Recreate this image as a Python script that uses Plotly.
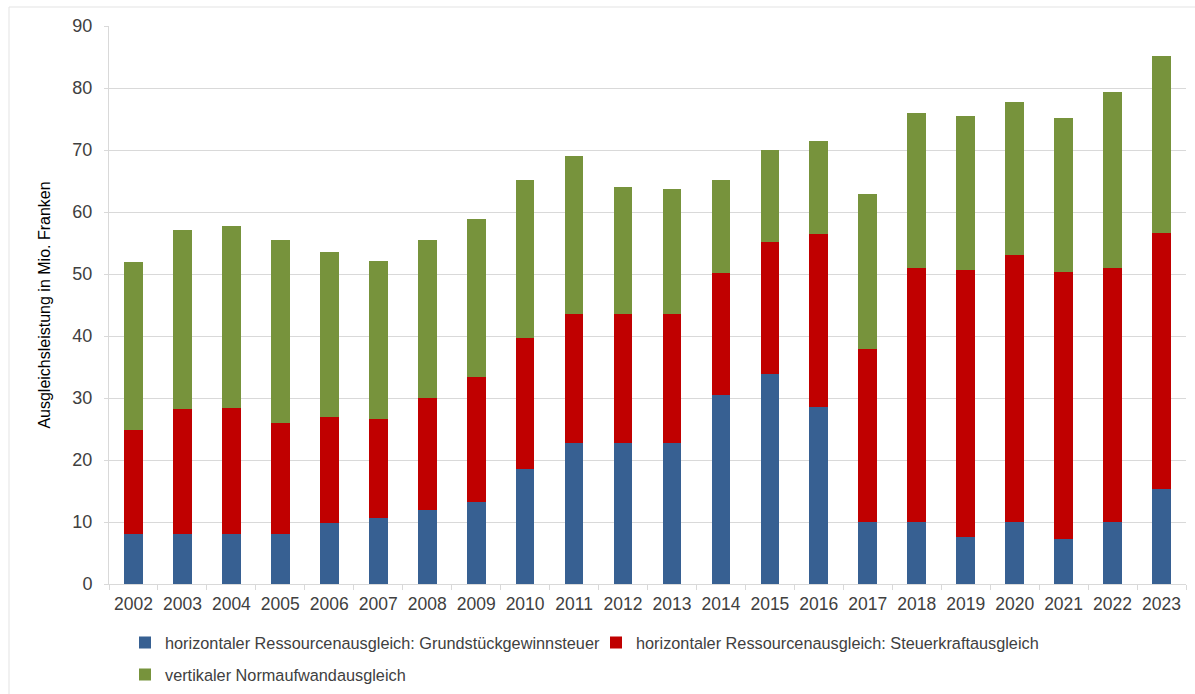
import plotly.graph_objects as go

years = [str(y) for y in range(2002, 2024)]
grundstueck = [8.0, 8.0, 8.0, 8.0, 9.9, 10.6, 11.9, 13.2, 18.5, 22.7, 22.7, 22.7,
               30.5, 33.9, 28.5, 10.0, 10.0, 7.6, 10.0, 7.2, 10.0, 15.4]
steuerkraft = [16.8, 20.2, 20.4, 18.0, 17.1, 16.0, 18.1, 20.2, 21.1, 20.9, 20.9, 20.9,
               19.7, 21.2, 28.0, 27.9, 40.9, 43.0, 43.0, 43.2, 40.9, 41.2]
normaufwand = [27.1, 28.9, 29.4, 29.5, 26.6, 25.5, 25.5, 25.4, 25.5, 25.5, 20.5, 20.1,
               14.9, 14.9, 15.0, 25.0, 25.0, 24.9, 24.8, 24.8, 28.5, 28.6]

names = ["horizontaler Ressourcenausgleich: Grundstückgewinnsteuer",
         "horizontaler Ressourcenausgleich: Steuerkraftausgleich",
         "vertikaler Normaufwandausgleich"]
colors = ["#376092", "#C00000", "#77933C"]
yticks = [0, 10, 20, 30, 40, 50, 60, 70, 80, 90]

W, H = 1195, 694
L, R, T, B = 109, 9, 26, 110
pw, ph = W - L - R, H - T - B

def px_x(x):
    return (x - L) / pw

def px_y(y):
    return (H - B - y) / ph

fig = go.Figure()
for i, (vals, nm, col) in enumerate(zip([grundstueck, steuerkraft, normaufwand], names, colors)):
    fig.add_trace(go.Bar(
        x=years, y=vals, name=nm, marker=dict(color=col, line=dict(width=0)),
        legend=["legend", "legend2", "legend3"][i], showlegend=True,
    ))

legfont = dict(family="Liberation Sans, Arial, sans-serif", size=16.3, color="#404040")
fig.update_layout(
    width=W, height=H,
    margin=dict(l=L, r=R, t=T, b=B, autoexpand=False),
    barmode="stack", bargap=0.618,
    showlegend=True,
    paper_bgcolor="white", plot_bgcolor="white",
    font=dict(family="Liberation Sans, Arial, sans-serif", color="#404040"),
    legend=dict(orientation="h", x=px_x(125), y=px_y(643), xanchor="left", yanchor="middle",
                font=legfont, bgcolor="rgba(0,0,0,0)", visible=True),
    legend2=dict(orientation="h", x=px_x(596), y=px_y(643), xanchor="left", yanchor="middle",
                 font=legfont, bgcolor="rgba(0,0,0,0)", visible=True),
    legend3=dict(orientation="h", x=px_x(125), y=px_y(675), xanchor="left", yanchor="middle",
                 font=legfont, bgcolor="rgba(0,0,0,0)", visible=True),
    xaxis=dict(
        type="category", showgrid=False, showline=True, linecolor="#D9D9D9", linewidth=1,
        ticks="outside", tickson="boundaries", ticklen=5, tickcolor="#D9D9D9",
        tickfont=dict(family="Liberation Sans, Arial, sans-serif", size=17.5, color="#404040"),
        ticklabelstandoff=4,
    ),
    yaxis=dict(
        range=[0, 90], tickvals=yticks, ticktext=[str(v) for v in yticks],
        showgrid=True, gridcolor="#D9D9D9", gridwidth=1,
        showline=True, linecolor="#D9D9D9", linewidth=1, zeroline=False,
        ticks="outside", ticklen=4, tickcolor="#D9D9D9",
        tickfont=dict(family="Liberation Sans, Arial, sans-serif", size=18, color="#404040"),
        ticklabelstandoff=8,
        title=dict(text="Ausgleichsleistung in Mio. Franken", standoff=17,
                   font=dict(family="Liberation Sans, Arial, sans-serif", size=16, color="#000000")),
    ),
    shapes=[dict(type="rect", xref="paper", yref="paper",
                 x0=px_x(9), x1=px_x(1210), y0=px_y(710), y1=px_y(7),
                 line=dict(color="#E3E3E3", width=1), fillcolor="rgba(0,0,0,0)", layer="below")],
)

fig.write_html("out.html", config={"displayModeBar": False},
               post_script="document.body.style.margin='0';document.body.style.overflow='hidden';")
